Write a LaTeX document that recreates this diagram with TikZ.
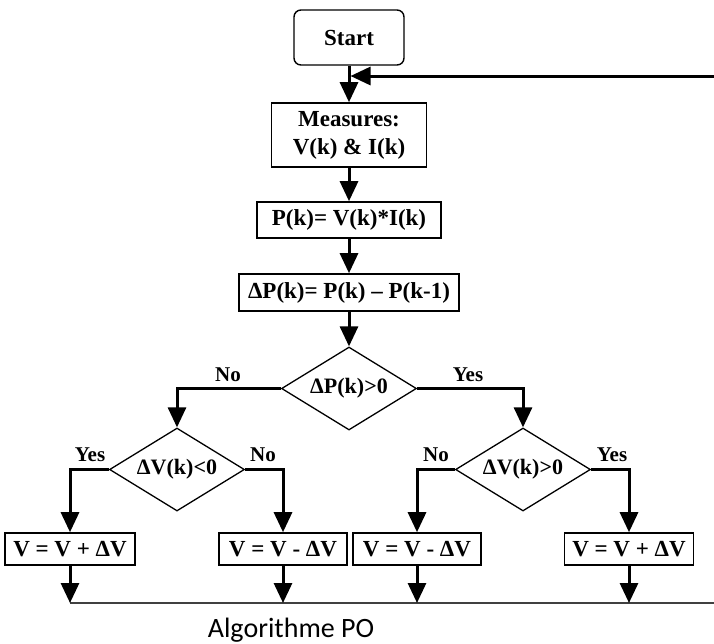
\documentclass[tikz,border=0pt]{standalone}
\usepackage{fontspec}
\setmainfont{Liberation Serif}
\newfontfamily\capfont{Carlito}
\usetikzlibrary{shapes.geometric,arrows.meta}
\begin{document}
\begin{tikzpicture}[x=1pt,y=-1pt,
  box/.style={draw, line width=1.6pt, inner sep=2pt, font=\fontsize{23}{28}\selectfont\bfseries, align=center},
  dec/.style={diamond, draw, line width=1.3pt, inner sep=0pt, minimum width=135pt, minimum height=83pt, aspect=1.63, font=\fontsize{22}{24}\selectfont\bfseries},
  arr/.style={line width=3pt, -{Triangle[length=20pt,width=18pt]}},
  lbl/.style={font=\fontsize{21}{24}\selectfont\bfseries},
  thin line/.style={line width=1.4pt, black!75},
]
\useasboundingbox (0,0) rectangle (714,643);
\fill[white] (0,0) rectangle (714,643);

\node[box, rounded corners=7pt, line width=1.4pt, minimum width=110pt, minimum height=55pt] (start) at (349,37.5) {Start};
\node[box, minimum width=155pt, minimum height=64pt] (meas) at (349,135) {Measures:\\V(k) \& I(k)};
\node[box, minimum width=184pt, minimum height=36pt] (pk) at (349,220) {P(k)= V(k)*I(k)};
\node[box, minimum width=220pt, minimum height=37pt] (dp) at (349,292.5) {ΔP(k)= P(k) – P(k-1)};

\node[dec] (d1) at (349,388.5) {ΔP(k)>0};
\node[dec] (d2) at (177,469.5) {ΔV(k)<0};
\node[dec] (d3) at (523,469.5) {ΔV(k)>0};

\node[box, minimum width=130pt, minimum height=32pt] (b1) at (70,549) {V = V + ΔV};
\node[box, minimum width=128pt, minimum height=32pt] (b2) at (283,549) {V = V - ΔV};
\node[box, minimum width=128pt, minimum height=32pt] (b3) at (417,549) {V = V - ΔV};
\node[box, minimum width=129pt, minimum height=32pt] (b4) at (629,549) {V = V + ΔV};

\node[lbl] (l1) at (228,375) {No};
\node[lbl] (l2) at (468,375) {Yes};
\node[lbl] (l3) at (90,455) {Yes};
\node[lbl] (l4) at (263,455) {No};
\node[lbl] (l5) at (436,455) {No};
\node[lbl] (l6) at (612,455) {Yes};

\coordinate (fbR) at (714,76);
\coordinate (botL) at (70,603);
\coordinate (botR) at (714,603);

\draw[arr] (start.south) -- (meas.north);
\draw[arr] (fbR) -- ([xshift=1.5pt]fbR -| start.south);
\draw[arr] (meas.south) -- (pk.north);
\draw[arr] (pk.south) -- (dp.north);
\draw[arr] (dp.south) -- (d1.north);

\draw[arr] (d1.west) -| (d2.north);
\draw[arr] (d1.east) -| (d3.north);
\draw[arr] (d2.west) -| (b1.north);
\draw[arr] (d2.east) -| (b2.north);
\draw[arr] (d3.west) -| (b3.north);
\draw[arr] (d3.east) -| (b4.north);

\draw[thin line] (botL) -- (botR);
\draw[arr] (b1.south) -- (b1.south |- botL);
\draw[arr] (b2.south) -- (b2.south |- botL);
\draw[arr] (b3.south) -- (b3.south |- botL);
\draw[arr] (b4.south) -- (b4.south |- botL);

\node[font=\capfont\fontsize{28}{30}\selectfont, anchor=base] (cap) at (291,637) {Algorithme PO};
\end{tikzpicture}
\end{document}
